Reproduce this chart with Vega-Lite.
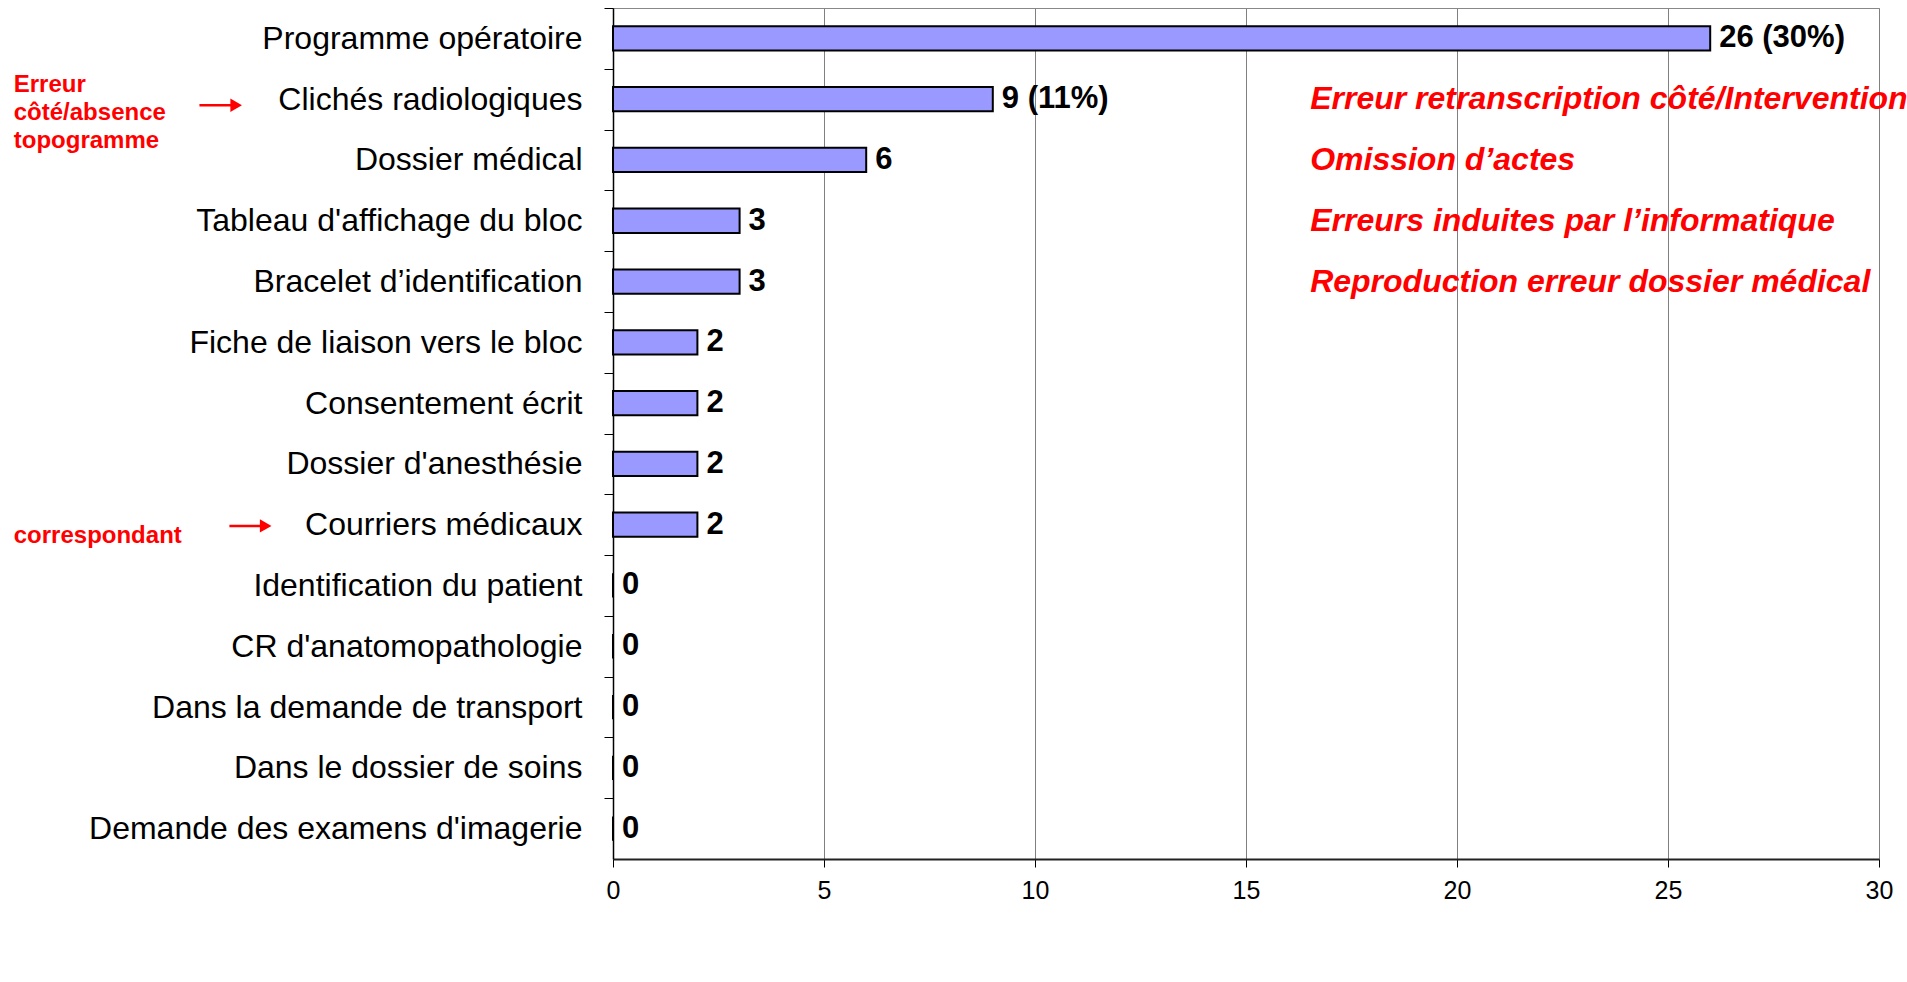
{
  "$schema": "https://vega.github.io/schema/vega-lite/v6.json",
  "width": 1266,
  "height": 851,
  "autosize": {"type": "none"},
  "padding": {"left": 613, "top": 8, "right": 28, "bottom": 123},
  "background": "white",
  "config": {
    "view": {"stroke": "#888888", "strokeWidth": 1},
    "font": "Liberation Sans"
  },
  "datasets": {
    "bars": [
      {"cat": "Programme opératoire", "value": 26, "label": "26 (30%)"},
      {"cat": "Clichés radiologiques", "value": 9, "label": "9 (11%)"},
      {"cat": "Dossier médical", "value": 6, "label": "6"},
      {"cat": "Tableau d'affichage du bloc", "value": 3, "label": "3"},
      {"cat": "Bracelet d’identification", "value": 3, "label": "3"},
      {"cat": "Fiche de liaison vers le bloc", "value": 2, "label": "2"},
      {"cat": "Consentement écrit", "value": 2, "label": "2"},
      {"cat": "Dossier d'anesthésie", "value": 2, "label": "2"},
      {"cat": "Courriers médicaux", "value": 2, "label": "2"},
      {"cat": "Identification du patient", "value": 0, "label": "0"},
      {"cat": "CR d'anatomopathologie", "value": 0, "label": "0"},
      {"cat": "Dans la demande de transport", "value": 0, "label": "0"},
      {"cat": "Dans le dossier de soins", "value": 0, "label": "0"},
      {"cat": "Demande des examens d'imagerie", "value": 0, "label": "0"}
    ],
    "rightNotes": [
      {"cat": "Clichés radiologiques", "x": 16.52, "text": "Erreur retranscription côté/Intervention"},
      {"cat": "Dossier médical", "x": 16.52, "text": "Omission d’actes"},
      {"cat": "Tableau d'affichage du bloc", "x": 16.52, "text": "Erreurs induites par l’informatique"},
      {"cat": "Bracelet d’identification", "x": 16.52, "text": "Reproduction erreur dossier médical"}
    ],
    "noteTop": [
      {"cat": "Clichés radiologiques", "x": -14.2, "text": ["Erreur", "côté/absence", "topogramme"]}
    ],
    "noteBottom": [
      {"cat": "Courriers médicaux", "x": -14.2, "text": "correspondant"}
    ],
    "arrowTop": [
      {"cat": "Clichés radiologiques", "x1": -9.8, "x2": -9.0, "head": -8.93}
    ],
    "arrowBottom": [
      {"cat": "Courriers médicaux", "x1": -9.09, "x2": -8.3, "head": -8.23}
    ]
  },
  "encoding": {
    "y": {
      "field": "cat",
      "type": "nominal",
      "sort": null,
      "scale": {
        "domain": [
          "Programme opératoire", "Clichés radiologiques", "Dossier médical",
          "Tableau d'affichage du bloc", "Bracelet d’identification",
          "Fiche de liaison vers le bloc", "Consentement écrit", "Dossier d'anesthésie",
          "Courriers médicaux", "Identification du patient", "CR d'anatomopathologie",
          "Dans la demande de transport", "Dans le dossier de soins",
          "Demande des examens d'imagerie"
        ],
        "paddingInner": 0.6,
        "paddingOuter": 0.3
      },
      "axis": {
        "title": null,
        "labelFontSize": 32,
        "labelFont": "Liberation Sans",
        "labelColor": "black",
        "labelPadding": 22,
        "labelLimit": 1000,
        "tickSize": 9,
        "tickColor": "black",
        "tickOffset": -30.39,
        "labelOffset": 30.39,
        "domainColor": "black",
        "domainWidth": 1.5,
        "grid": false
      }
    }
  },
  "layer": [
    {
      "data": {"name": "bars"},
      "mark": {"type": "bar", "fill": "#9999FF", "stroke": "black", "strokeWidth": 2},
      "encoding": {
        "x": {
          "field": "value",
          "type": "quantitative",
          "scale": {"domain": [0, 30], "nice": false},
          "axis": {
            "title": null,
            "values": [0, 5, 10, 15, 20, 25, 30],
            "grid": true,
            "gridColor": "#808080",
            "gridWidth": 1,
            "labelFontSize": 25,
            "labelFont": "Liberation Sans",
            "labelColor": "black",
            "labelPadding": 11,
            "labelFlush": false,
            "tickSize": 8,
            "tickColor": "black",
            "domainColor": "#222222",
            "domainWidth": 2
          }
        }
      }
    },
    {
      "data": {"name": "bars"},
      "mark": {"type": "text", "align": "left", "baseline": "middle", "dx": 9, "fontSize": 31, "fontWeight": "bold", "font": "Liberation Sans", "color": "black"},
      "encoding": {
        "x": {"field": "value", "type": "quantitative"},
        "text": {"field": "label"}
      }
    },
    {
      "data": {"name": "rightNotes"},
      "mark": {"type": "text", "align": "left", "baseline": "middle", "fontSize": 32, "fontWeight": "bold", "fontStyle": "italic", "font": "Liberation Sans", "color": "#FF0000"},
      "encoding": {
        "x": {"field": "x", "type": "quantitative"},
        "text": {"field": "text"}
      }
    },
    {
      "data": {"name": "noteTop"},
      "mark": {"type": "text", "align": "left", "baseline": "top", "dy": -26, "lineHeight": 28, "fontSize": 24, "fontWeight": "bold", "font": "Liberation Sans", "color": "#FF0000"},
      "encoding": {
        "x": {"field": "x", "type": "quantitative"},
        "text": {"field": "text"}
      }
    },
    {
      "data": {"name": "noteBottom"},
      "mark": {"type": "text", "align": "left", "baseline": "middle", "dy": 11, "fontSize": 24, "fontWeight": "bold", "font": "Liberation Sans", "color": "#FF0000"},
      "encoding": {
        "x": {"field": "x", "type": "quantitative"},
        "text": {"field": "text"}
      }
    },
    {
      "data": {"name": "arrowTop"},
      "mark": {"type": "rule", "color": "#FF0000", "strokeWidth": 2.5},
      "encoding": {
        "x": {"field": "x1", "type": "quantitative"},
        "x2": {"field": "x2"},
        "y": {"field": "cat", "type": "nominal", "bandPosition": 0.75}
      }
    },
    {
      "data": {"name": "arrowTop"},
      "mark": {"type": "point", "shape": "triangle-right", "filled": true, "color": "#FF0000", "size": 180, "opacity": 1},
      "encoding": {
        "x": {"field": "head", "type": "quantitative"},
        "y": {"field": "cat", "type": "nominal", "bandPosition": 0.75}
      }
    },
    {
      "data": {"name": "arrowBottom"},
      "mark": {"type": "rule", "color": "#FF0000", "strokeWidth": 2.5},
      "encoding": {
        "x": {"field": "x1", "type": "quantitative"},
        "x2": {"field": "x2"},
        "y": {"field": "cat", "type": "nominal", "bandPosition": 0.55}
      }
    },
    {
      "data": {"name": "arrowBottom"},
      "mark": {"type": "point", "shape": "triangle-right", "filled": true, "color": "#FF0000", "size": 180, "opacity": 1},
      "encoding": {
        "x": {"field": "head", "type": "quantitative"},
        "y": {"field": "cat", "type": "nominal", "bandPosition": 0.55}
      }
    }
  ]
}
